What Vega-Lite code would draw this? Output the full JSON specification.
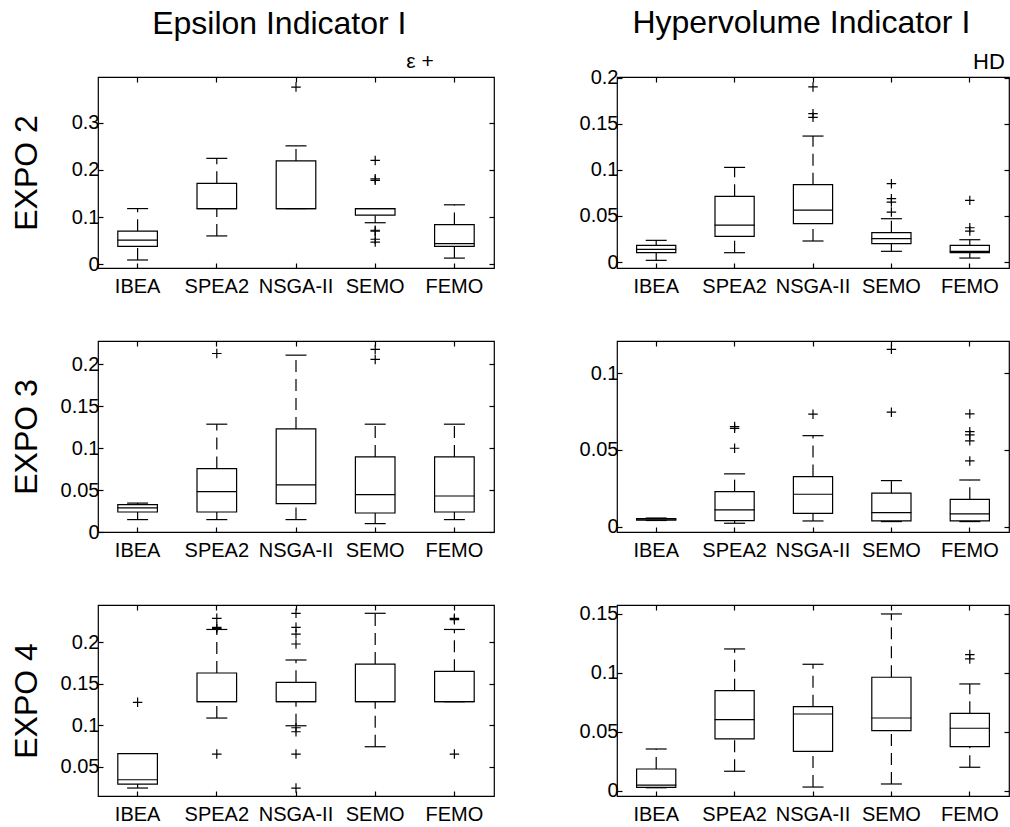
{
  "$schema": "https://vega.github.io/schema/vega-lite/v6.json",
  "background": "white",
  "padding": {"left": 9, "top": 7, "right": 0, "bottom": 0},
  "spacing": 82,
  "datasets": {
    "rows": [
      {"expo": "EXPO 2", "ind": "eps", "alg": "IBEA", "lo": 0.009, "q1": 0.038, "med": 0.051, "q3": 0.070, "hi": 0.118},
      {"expo": "EXPO 2", "ind": "eps", "alg": "SPEA2", "lo": 0.060, "q1": 0.118, "med": 0.118, "q3": 0.1716, "hi": 0.2245},
      {"expo": "EXPO 2", "ind": "eps", "alg": "NSGA-II", "lo": 0.118, "q1": 0.118, "med": 0.118, "q3": 0.219, "hi": 0.251},
      {"expo": "EXPO 2", "ind": "eps", "alg": "SEMO", "lo": 0.088, "q1": 0.104, "med": 0.118, "q3": 0.118, "hi": 0.118},
      {"expo": "EXPO 2", "ind": "eps", "alg": "FEMO", "lo": 0.013, "q1": 0.038, "med": 0.0437, "q3": 0.084, "hi": 0.126},
      {"expo": "EXPO 2", "ind": "eps", "alg": "NSGA-II", "v": 0.3756},
      {"expo": "EXPO 2", "ind": "eps", "alg": "SEMO", "v": 0.220},
      {"expo": "EXPO 2", "ind": "eps", "alg": "SEMO", "v": 0.181},
      {"expo": "EXPO 2", "ind": "eps", "alg": "SEMO", "v": 0.178},
      {"expo": "EXPO 2", "ind": "eps", "alg": "SEMO", "v": 0.072},
      {"expo": "EXPO 2", "ind": "eps", "alg": "SEMO", "v": 0.070},
      {"expo": "EXPO 2", "ind": "eps", "alg": "SEMO", "v": 0.053},
      {"expo": "EXPO 2", "ind": "eps", "alg": "SEMO", "v": 0.047},

      {"expo": "EXPO 2", "ind": "hv", "alg": "IBEA", "lo": 0.0018, "q1": 0.0101, "med": 0.0137, "q3": 0.0181, "hi": 0.0235},
      {"expo": "EXPO 2", "ind": "hv", "alg": "SPEA2", "lo": 0.0101, "q1": 0.0279, "med": 0.0401, "q3": 0.0713, "hi": 0.1027},
      {"expo": "EXPO 2", "ind": "hv", "alg": "NSGA-II", "lo": 0.0228, "q1": 0.0416, "med": 0.0564, "q3": 0.0839, "hi": 0.1367},
      {"expo": "EXPO 2", "ind": "hv", "alg": "SEMO", "lo": 0.0116, "q1": 0.0199, "med": 0.0253, "q3": 0.0318, "hi": 0.047},
      {"expo": "EXPO 2", "ind": "hv", "alg": "FEMO", "lo": 0.0043, "q1": 0.0101, "med": 0.0116, "q3": 0.0181, "hi": 0.0242},
      {"expo": "EXPO 2", "ind": "hv", "alg": "NSGA-II", "v": 0.190},
      {"expo": "EXPO 2", "ind": "hv", "alg": "NSGA-II", "v": 0.161},
      {"expo": "EXPO 2", "ind": "hv", "alg": "NSGA-II", "v": 0.157},
      {"expo": "EXPO 2", "ind": "hv", "alg": "SEMO", "v": 0.085},
      {"expo": "EXPO 2", "ind": "hv", "alg": "SEMO", "v": 0.0687},
      {"expo": "EXPO 2", "ind": "hv", "alg": "SEMO", "v": 0.0651},
      {"expo": "EXPO 2", "ind": "hv", "alg": "SEMO", "v": 0.0542},
      {"expo": "EXPO 2", "ind": "hv", "alg": "FEMO", "v": 0.0669},
      {"expo": "EXPO 2", "ind": "hv", "alg": "FEMO", "v": 0.0372},
      {"expo": "EXPO 2", "ind": "hv", "alg": "FEMO", "v": 0.0336},

      {"expo": "EXPO 3", "ind": "eps", "alg": "IBEA", "lo": 0.0148, "q1": 0.0239, "med": 0.0287, "q3": 0.0327, "hi": 0.0345},
      {"expo": "EXPO 3", "ind": "eps", "alg": "SPEA2", "lo": 0.0148, "q1": 0.0239, "med": 0.0482, "q3": 0.0757, "hi": 0.1287},
      {"expo": "EXPO 3", "ind": "eps", "alg": "NSGA-II", "lo": 0.0148, "q1": 0.0339, "med": 0.0562, "q3": 0.1231, "hi": 0.2111},
      {"expo": "EXPO 3", "ind": "eps", "alg": "SEMO", "lo": 0.010, "q1": 0.0227, "med": 0.0447, "q3": 0.0896, "hi": 0.1287},
      {"expo": "EXPO 3", "ind": "eps", "alg": "FEMO", "lo": 0.0148, "q1": 0.0239, "med": 0.043, "q3": 0.0896, "hi": 0.1287},
      {"expo": "EXPO 3", "ind": "eps", "alg": "SPEA2", "v": 0.2131},
      {"expo": "EXPO 3", "ind": "eps", "alg": "SEMO", "v": 0.2179},
      {"expo": "EXPO 3", "ind": "eps", "alg": "SEMO", "v": 0.206},

      {"expo": "EXPO 3", "ind": "hv", "alg": "IBEA", "lo": 0.0040, "q1": 0.0043, "med": 0.0048, "q3": 0.0053, "hi": 0.0056},
      {"expo": "EXPO 3", "ind": "hv", "alg": "SPEA2", "lo": 0.0022, "q1": 0.0039, "med": 0.0109, "q3": 0.0228, "hi": 0.0344},
      {"expo": "EXPO 3", "ind": "hv", "alg": "NSGA-II", "lo": 0.0037, "q1": 0.0087, "med": 0.0211, "q3": 0.0326, "hi": 0.0593},
      {"expo": "EXPO 3", "ind": "hv", "alg": "SEMO", "lo": 0.0033, "q1": 0.0037, "med": 0.0091, "q3": 0.0218, "hi": 0.030},
      {"expo": "EXPO 3", "ind": "hv", "alg": "FEMO", "lo": 0.0033, "q1": 0.0037, "med": 0.0083, "q3": 0.0178, "hi": 0.0304},
      {"expo": "EXPO 3", "ind": "hv", "alg": "SPEA2", "v": 0.0652},
      {"expo": "EXPO 3", "ind": "hv", "alg": "SPEA2", "v": 0.0641},
      {"expo": "EXPO 3", "ind": "hv", "alg": "SPEA2", "v": 0.0511},
      {"expo": "EXPO 3", "ind": "hv", "alg": "NSGA-II", "v": 0.0733},
      {"expo": "EXPO 3", "ind": "hv", "alg": "SEMO", "v": 0.1156},
      {"expo": "EXPO 3", "ind": "hv", "alg": "SEMO", "v": 0.0746},
      {"expo": "EXPO 3", "ind": "hv", "alg": "FEMO", "v": 0.0735},
      {"expo": "EXPO 3", "ind": "hv", "alg": "FEMO", "v": 0.0619},
      {"expo": "EXPO 3", "ind": "hv", "alg": "FEMO", "v": 0.0598},
      {"expo": "EXPO 3", "ind": "hv", "alg": "FEMO", "v": 0.0559},
      {"expo": "EXPO 3", "ind": "hv", "alg": "FEMO", "v": 0.0428},

      {"expo": "EXPO 4", "ind": "eps", "alg": "IBEA", "lo": 0.0243, "q1": 0.0291, "med": 0.0343, "q3": 0.0657, "hi": 0.0657},
      {"expo": "EXPO 4", "ind": "eps", "alg": "SPEA2", "lo": 0.1087, "q1": 0.1284, "med": 0.1284, "q3": 0.163, "hi": 0.2155},
      {"expo": "EXPO 4", "ind": "eps", "alg": "NSGA-II", "lo": 0.0994, "q1": 0.1284, "med": 0.1284, "q3": 0.1518, "hi": 0.1787},
      {"expo": "EXPO 4", "ind": "eps", "alg": "SEMO", "lo": 0.0741, "q1": 0.1284, "med": 0.1284, "q3": 0.1738, "hi": 0.235},
      {"expo": "EXPO 4", "ind": "eps", "alg": "FEMO", "lo": 0.1284, "q1": 0.1284, "med": 0.1284, "q3": 0.165, "hi": 0.2155},
      {"expo": "EXPO 4", "ind": "eps", "alg": "IBEA", "v": 0.1277},
      {"expo": "EXPO 4", "ind": "eps", "alg": "SPEA2", "v": 0.2289},
      {"expo": "EXPO 4", "ind": "eps", "alg": "SPEA2", "v": 0.2181},
      {"expo": "EXPO 4", "ind": "eps", "alg": "SPEA2", "v": 0.2165},
      {"expo": "EXPO 4", "ind": "eps", "alg": "SPEA2", "v": 0.0653},
      {"expo": "EXPO 4", "ind": "eps", "alg": "NSGA-II", "v": 0.235},
      {"expo": "EXPO 4", "ind": "eps", "alg": "NSGA-II", "v": 0.2181},
      {"expo": "EXPO 4", "ind": "eps", "alg": "NSGA-II", "v": 0.21},
      {"expo": "EXPO 4", "ind": "eps", "alg": "NSGA-II", "v": 0.198},
      {"expo": "EXPO 4", "ind": "eps", "alg": "NSGA-II", "v": 0.097},
      {"expo": "EXPO 4", "ind": "eps", "alg": "NSGA-II", "v": 0.0922},
      {"expo": "EXPO 4", "ind": "eps", "alg": "NSGA-II", "v": 0.0653},
      {"expo": "EXPO 4", "ind": "eps", "alg": "NSGA-II", "v": 0.0243},
      {"expo": "EXPO 4", "ind": "eps", "alg": "FEMO", "v": 0.2289},
      {"expo": "EXPO 4", "ind": "eps", "alg": "FEMO", "v": 0.2273},
      {"expo": "EXPO 4", "ind": "eps", "alg": "FEMO", "v": 0.0653},

      {"expo": "EXPO 4", "ind": "hv", "alg": "IBEA", "lo": 0.0025, "q1": 0.0029, "med": 0.0048, "q3": 0.0184, "hi": 0.0354},
      {"expo": "EXPO 4", "ind": "hv", "alg": "SPEA2", "lo": 0.0165, "q1": 0.0439, "med": 0.0603, "q3": 0.0849, "hi": 0.1203},
      {"expo": "EXPO 4", "ind": "hv", "alg": "NSGA-II", "lo": 0.0031, "q1": 0.0334, "med": 0.0651, "q3": 0.0713, "hi": 0.1073},
      {"expo": "EXPO 4", "ind": "hv", "alg": "SEMO", "lo": 0.0057, "q1": 0.0509, "med": 0.0617, "q3": 0.0963, "hi": 0.150},
      {"expo": "EXPO 4", "ind": "hv", "alg": "FEMO", "lo": 0.0199, "q1": 0.0374, "med": 0.053, "q3": 0.0657, "hi": 0.0906},
      {"expo": "EXPO 4", "ind": "hv", "alg": "FEMO", "v": 0.1155},
      {"expo": "EXPO 4", "ind": "hv", "alg": "FEMO", "v": 0.1118}
    ]
  },
  "hconcat": [
    {
      "title": {"text": "Epsilon Indicator I", "fontSize": 32, "anchor": "middle", "offset": 10, "dx": 27},
      "spacing": 42,
      "vconcat": [
        {
          "width": 396, "height": 191,
          "title": {"text": "ε +", "fontSize": 21, "anchor": "middle", "frame": "group", "dx": 124, "offset": -13, "baseline": "alphabetic"},
          "data": {"name": "rows"},
          "transform": [{"filter": "datum.expo === 'EXPO 2' && datum.ind === 'eps'"}],
          "resolve": {"axis": {"x": "independent", "y": "independent"}},
          "layer": [
            {"transform": [{"filter": "isValid(datum.q1)"}],
             "mark": {"type": "rule", "color": "black", "strokeWidth": 1.2, "strokeDash": [12, 7]},
             "encoding": {
               "x": {"field": "alg", "type": "nominal", "scale": {"type": "band", "domain": ["IBEA", "SPEA2", "NSGA-II", "SEMO", "FEMO"], "paddingInner": 0, "paddingOuter": 0}, "axis": {"orient": "bottom", "title": null, "labelAngle": 0}},
               "y": {"field": "lo", "type": "quantitative", "scale": {"domain": [-0.008, 0.397], "nice": false, "zero": false}, "axis": {"orient": "left", "values": [0, 0.1, 0.2, 0.3], "format": "~g", "title": "EXPO 2", "titleX": -62, "titleY": 95.5}},
               "y2": {"field": "q1"}}},
            {"transform": [{"filter": "isValid(datum.q1)"}],
             "mark": {"type": "point", "opacity": 0},
             "encoding": {
               "x": {"field": "alg", "type": "nominal", "axis": {"orient": "top", "labels": false, "title": null}},
               "y": {"field": "hi", "type": "quantitative", "axis": {"orient": "right", "labels": false, "title": null, "values": [0, 0.1, 0.2, 0.3]}}}},
            {"transform": [{"filter": "isValid(datum.q1)"}],
             "mark": {"type": "rule", "color": "black", "strokeWidth": 1.2, "strokeDash": [12, 7]},
             "encoding": {"x": {"field": "alg", "type": "nominal", "axis": null}, "y": {"field": "q3", "type": "quantitative", "axis": null}, "y2": {"field": "hi"}}},
            {"transform": [{"filter": "isValid(datum.q1)"}],
             "mark": {"type": "tick", "color": "black", "thickness": 1.2, "size": 21, "opacity": 1},
             "encoding": {"x": {"field": "alg", "type": "nominal", "axis": null}, "y": {"field": "lo", "type": "quantitative", "axis": null}}},
            {"transform": [{"filter": "isValid(datum.q1)"}],
             "mark": {"type": "tick", "color": "black", "thickness": 1.2, "size": 21, "opacity": 1},
             "encoding": {"x": {"field": "alg", "type": "nominal", "axis": null}, "y": {"field": "hi", "type": "quantitative", "axis": null}}},
            {"transform": [{"filter": "isValid(datum.q1)"}],
             "mark": {"type": "bar", "fill": "white", "stroke": "black", "strokeWidth": 1.2, "width": {"band": 0.5}},
             "encoding": {"x": {"field": "alg", "type": "nominal", "axis": null}, "y": {"field": "q1", "type": "quantitative", "axis": null}, "y2": {"field": "q3"}}},
            {"transform": [{"filter": "isValid(datum.q1)"}],
             "mark": {"type": "tick", "color": "black", "thickness": 1.2, "size": 40, "opacity": 1},
             "encoding": {"x": {"field": "alg", "type": "nominal", "axis": null}, "y": {"field": "med", "type": "quantitative", "axis": null}}},
            {"transform": [{"filter": "isValid(datum.v)"}],
             "mark": {"type": "point", "shape": "M-1,0H1M0,-1V1", "filled": false, "stroke": "black", "strokeWidth": 1.2, "size": 90, "opacity": 1},
             "encoding": {"x": {"field": "alg", "type": "nominal", "axis": null}, "y": {"field": "v", "type": "quantitative", "axis": null}}}
          ]
        },
        {
          "width": 396, "height": 191,
          "data": {"name": "rows"},
          "transform": [{"filter": "datum.expo === 'EXPO 3' && datum.ind === 'eps'"}],
          "resolve": {"axis": {"x": "independent", "y": "independent"}},
          "layer": [
            {"transform": [{"filter": "isValid(datum.q1)"}],
             "mark": {"type": "rule", "color": "black", "strokeWidth": 1.2, "strokeDash": [12, 7]},
             "encoding": {
               "x": {"field": "alg", "type": "nominal", "scale": {"type": "band", "domain": ["IBEA", "SPEA2", "NSGA-II", "SEMO", "FEMO"], "paddingInner": 0, "paddingOuter": 0}, "axis": {"orient": "bottom", "title": null, "labelAngle": 0}},
               "y": {"field": "lo", "type": "quantitative", "scale": {"domain": [0, 0.228], "nice": false, "zero": false}, "axis": {"orient": "left", "values": [0, 0.05, 0.1, 0.15, 0.2], "format": "~g", "title": "EXPO 3", "titleX": -62, "titleY": 95.5}},
               "y2": {"field": "q1"}}},
            {"transform": [{"filter": "isValid(datum.q1)"}],
             "mark": {"type": "point", "opacity": 0},
             "encoding": {
               "x": {"field": "alg", "type": "nominal", "axis": {"orient": "top", "labels": false, "title": null}},
               "y": {"field": "hi", "type": "quantitative", "axis": {"orient": "right", "labels": false, "title": null, "values": [0, 0.05, 0.1, 0.15, 0.2]}}}},
            {"transform": [{"filter": "isValid(datum.q1)"}],
             "mark": {"type": "rule", "color": "black", "strokeWidth": 1.2, "strokeDash": [12, 7]},
             "encoding": {"x": {"field": "alg", "type": "nominal", "axis": null}, "y": {"field": "q3", "type": "quantitative", "axis": null}, "y2": {"field": "hi"}}},
            {"transform": [{"filter": "isValid(datum.q1)"}],
             "mark": {"type": "tick", "color": "black", "thickness": 1.2, "size": 21, "opacity": 1},
             "encoding": {"x": {"field": "alg", "type": "nominal", "axis": null}, "y": {"field": "lo", "type": "quantitative", "axis": null}}},
            {"transform": [{"filter": "isValid(datum.q1)"}],
             "mark": {"type": "tick", "color": "black", "thickness": 1.2, "size": 21, "opacity": 1},
             "encoding": {"x": {"field": "alg", "type": "nominal", "axis": null}, "y": {"field": "hi", "type": "quantitative", "axis": null}}},
            {"transform": [{"filter": "isValid(datum.q1)"}],
             "mark": {"type": "bar", "fill": "white", "stroke": "black", "strokeWidth": 1.2, "width": {"band": 0.5}},
             "encoding": {"x": {"field": "alg", "type": "nominal", "axis": null}, "y": {"field": "q1", "type": "quantitative", "axis": null}, "y2": {"field": "q3"}}},
            {"transform": [{"filter": "isValid(datum.q1)"}],
             "mark": {"type": "tick", "color": "black", "thickness": 1.2, "size": 40, "opacity": 1},
             "encoding": {"x": {"field": "alg", "type": "nominal", "axis": null}, "y": {"field": "med", "type": "quantitative", "axis": null}}},
            {"transform": [{"filter": "isValid(datum.v)"}],
             "mark": {"type": "point", "shape": "M-1,0H1M0,-1V1", "filled": false, "stroke": "black", "strokeWidth": 1.2, "size": 90, "opacity": 1},
             "encoding": {"x": {"field": "alg", "type": "nominal", "axis": null}, "y": {"field": "v", "type": "quantitative", "axis": null}}}
          ]
        },
        {
          "width": 396, "height": 191,
          "data": {"name": "rows"},
          "transform": [{"filter": "datum.expo === 'EXPO 4' && datum.ind === 'eps'"}],
          "resolve": {"axis": {"x": "independent", "y": "independent"}},
          "layer": [
            {"transform": [{"filter": "isValid(datum.q1)"}],
             "mark": {"type": "rule", "color": "black", "strokeWidth": 1.2, "strokeDash": [12, 7]},
             "encoding": {
               "x": {"field": "alg", "type": "nominal", "scale": {"type": "band", "domain": ["IBEA", "SPEA2", "NSGA-II", "SEMO", "FEMO"], "paddingInner": 0, "paddingOuter": 0}, "axis": {"orient": "bottom", "title": null, "labelAngle": 0}},
               "y": {"field": "lo", "type": "quantitative", "scale": {"domain": [0.0147, 0.245], "nice": false, "zero": false}, "axis": {"orient": "left", "values": [0.05, 0.1, 0.15, 0.2], "format": "~g", "title": "EXPO 4", "titleX": -62, "titleY": 95.5}},
               "y2": {"field": "q1"}}},
            {"transform": [{"filter": "isValid(datum.q1)"}],
             "mark": {"type": "point", "opacity": 0},
             "encoding": {
               "x": {"field": "alg", "type": "nominal", "axis": {"orient": "top", "labels": false, "title": null}},
               "y": {"field": "hi", "type": "quantitative", "axis": {"orient": "right", "labels": false, "title": null, "values": [0.05, 0.1, 0.15, 0.2]}}}},
            {"transform": [{"filter": "isValid(datum.q1)"}],
             "mark": {"type": "rule", "color": "black", "strokeWidth": 1.2, "strokeDash": [12, 7]},
             "encoding": {"x": {"field": "alg", "type": "nominal", "axis": null}, "y": {"field": "q3", "type": "quantitative", "axis": null}, "y2": {"field": "hi"}}},
            {"transform": [{"filter": "isValid(datum.q1)"}],
             "mark": {"type": "tick", "color": "black", "thickness": 1.2, "size": 21, "opacity": 1},
             "encoding": {"x": {"field": "alg", "type": "nominal", "axis": null}, "y": {"field": "lo", "type": "quantitative", "axis": null}}},
            {"transform": [{"filter": "isValid(datum.q1)"}],
             "mark": {"type": "tick", "color": "black", "thickness": 1.2, "size": 21, "opacity": 1},
             "encoding": {"x": {"field": "alg", "type": "nominal", "axis": null}, "y": {"field": "hi", "type": "quantitative", "axis": null}}},
            {"transform": [{"filter": "isValid(datum.q1)"}],
             "mark": {"type": "bar", "fill": "white", "stroke": "black", "strokeWidth": 1.2, "width": {"band": 0.5}},
             "encoding": {"x": {"field": "alg", "type": "nominal", "axis": null}, "y": {"field": "q1", "type": "quantitative", "axis": null}, "y2": {"field": "q3"}}},
            {"transform": [{"filter": "isValid(datum.q1)"}],
             "mark": {"type": "tick", "color": "black", "thickness": 1.2, "size": 40, "opacity": 1},
             "encoding": {"x": {"field": "alg", "type": "nominal", "axis": null}, "y": {"field": "med", "type": "quantitative", "axis": null}}},
            {"transform": [{"filter": "isValid(datum.v)"}],
             "mark": {"type": "point", "shape": "M-1,0H1M0,-1V1", "filled": false, "stroke": "black", "strokeWidth": 1.2, "size": 90, "opacity": 1},
             "encoding": {"x": {"field": "alg", "type": "nominal", "axis": null}, "y": {"field": "v", "type": "quantitative", "axis": null}}}
          ]
        }
      ]
    },
    {
      "title": {"text": "Hypervolume Indicator I", "fontSize": 32, "anchor": "middle", "offset": 10, "dx": 7},
      "spacing": 42,
      "vconcat": [
        {
          "width": 392, "height": 191,
          "title": {"text": "HD", "fontSize": 22, "anchor": "middle", "frame": "group", "dx": 176, "offset": -23, "baseline": "alphabetic"},
          "data": {"name": "rows"},
          "transform": [{"filter": "datum.expo === 'EXPO 2' && datum.ind === 'hv'"}],
          "resolve": {"axis": {"x": "independent", "y": "independent"}},
          "layer": [
            {"transform": [{"filter": "isValid(datum.q1)"}],
             "mark": {"type": "rule", "color": "black", "strokeWidth": 1.2, "strokeDash": [12, 7]},
             "encoding": {
               "x": {"field": "alg", "type": "nominal", "scale": {"type": "band", "domain": ["IBEA", "SPEA2", "NSGA-II", "SEMO", "FEMO"], "paddingInner": 0, "paddingOuter": 0}, "axis": {"orient": "bottom", "title": null, "labelAngle": 0}},
               "y": {"field": "lo", "type": "quantitative", "scale": {"domain": [-0.0065, 0.2008], "nice": false, "zero": false}, "axis": {"orient": "left", "values": [0, 0.05, 0.1, 0.15, 0.2], "format": "~g", "title": null}},
               "y2": {"field": "q1"}}},
            {"transform": [{"filter": "isValid(datum.q1)"}],
             "mark": {"type": "point", "opacity": 0},
             "encoding": {
               "x": {"field": "alg", "type": "nominal", "axis": {"orient": "top", "labels": false, "title": null}},
               "y": {"field": "hi", "type": "quantitative", "axis": {"orient": "right", "labels": false, "title": null, "values": [0, 0.05, 0.1, 0.15, 0.2]}}}},
            {"transform": [{"filter": "isValid(datum.q1)"}],
             "mark": {"type": "rule", "color": "black", "strokeWidth": 1.2, "strokeDash": [12, 7]},
             "encoding": {"x": {"field": "alg", "type": "nominal", "axis": null}, "y": {"field": "q3", "type": "quantitative", "axis": null}, "y2": {"field": "hi"}}},
            {"transform": [{"filter": "isValid(datum.q1)"}],
             "mark": {"type": "tick", "color": "black", "thickness": 1.2, "size": 21, "opacity": 1},
             "encoding": {"x": {"field": "alg", "type": "nominal", "axis": null}, "y": {"field": "lo", "type": "quantitative", "axis": null}}},
            {"transform": [{"filter": "isValid(datum.q1)"}],
             "mark": {"type": "tick", "color": "black", "thickness": 1.2, "size": 21, "opacity": 1},
             "encoding": {"x": {"field": "alg", "type": "nominal", "axis": null}, "y": {"field": "hi", "type": "quantitative", "axis": null}}},
            {"transform": [{"filter": "isValid(datum.q1)"}],
             "mark": {"type": "bar", "fill": "white", "stroke": "black", "strokeWidth": 1.2, "width": {"band": 0.5}},
             "encoding": {"x": {"field": "alg", "type": "nominal", "axis": null}, "y": {"field": "q1", "type": "quantitative", "axis": null}, "y2": {"field": "q3"}}},
            {"transform": [{"filter": "isValid(datum.q1)"}],
             "mark": {"type": "tick", "color": "black", "thickness": 1.2, "size": 40, "opacity": 1},
             "encoding": {"x": {"field": "alg", "type": "nominal", "axis": null}, "y": {"field": "med", "type": "quantitative", "axis": null}}},
            {"transform": [{"filter": "isValid(datum.v)"}],
             "mark": {"type": "point", "shape": "M-1,0H1M0,-1V1", "filled": false, "stroke": "black", "strokeWidth": 1.2, "size": 90, "opacity": 1},
             "encoding": {"x": {"field": "alg", "type": "nominal", "axis": null}, "y": {"field": "v", "type": "quantitative", "axis": null}}}
          ]
        },
        {
          "width": 392, "height": 191,
          "data": {"name": "rows"},
          "transform": [{"filter": "datum.expo === 'EXPO 3' && datum.ind === 'hv'"}],
          "resolve": {"axis": {"x": "independent", "y": "independent"}},
          "layer": [
            {"transform": [{"filter": "isValid(datum.q1)"}],
             "mark": {"type": "rule", "color": "black", "strokeWidth": 1.2, "strokeDash": [12, 7]},
             "encoding": {
               "x": {"field": "alg", "type": "nominal", "scale": {"type": "band", "domain": ["IBEA", "SPEA2", "NSGA-II", "SEMO", "FEMO"], "paddingInner": 0, "paddingOuter": 0}, "axis": {"orient": "bottom", "title": null, "labelAngle": 0}},
               "y": {"field": "lo", "type": "quantitative", "scale": {"domain": [-0.0035, 0.121], "nice": false, "zero": false}, "axis": {"orient": "left", "values": [0, 0.05, 0.1], "format": "~g", "title": null}},
               "y2": {"field": "q1"}}},
            {"transform": [{"filter": "isValid(datum.q1)"}],
             "mark": {"type": "point", "opacity": 0},
             "encoding": {
               "x": {"field": "alg", "type": "nominal", "axis": {"orient": "top", "labels": false, "title": null}},
               "y": {"field": "hi", "type": "quantitative", "axis": {"orient": "right", "labels": false, "title": null, "values": [0, 0.05, 0.1]}}}},
            {"transform": [{"filter": "isValid(datum.q1)"}],
             "mark": {"type": "rule", "color": "black", "strokeWidth": 1.2, "strokeDash": [12, 7]},
             "encoding": {"x": {"field": "alg", "type": "nominal", "axis": null}, "y": {"field": "q3", "type": "quantitative", "axis": null}, "y2": {"field": "hi"}}},
            {"transform": [{"filter": "isValid(datum.q1)"}],
             "mark": {"type": "tick", "color": "black", "thickness": 1.2, "size": 21, "opacity": 1},
             "encoding": {"x": {"field": "alg", "type": "nominal", "axis": null}, "y": {"field": "lo", "type": "quantitative", "axis": null}}},
            {"transform": [{"filter": "isValid(datum.q1)"}],
             "mark": {"type": "tick", "color": "black", "thickness": 1.2, "size": 21, "opacity": 1},
             "encoding": {"x": {"field": "alg", "type": "nominal", "axis": null}, "y": {"field": "hi", "type": "quantitative", "axis": null}}},
            {"transform": [{"filter": "isValid(datum.q1)"}],
             "mark": {"type": "bar", "fill": "white", "stroke": "black", "strokeWidth": 1.2, "width": {"band": 0.5}},
             "encoding": {"x": {"field": "alg", "type": "nominal", "axis": null}, "y": {"field": "q1", "type": "quantitative", "axis": null}, "y2": {"field": "q3"}}},
            {"transform": [{"filter": "isValid(datum.q1)"}],
             "mark": {"type": "tick", "color": "black", "thickness": 1.2, "size": 40, "opacity": 1},
             "encoding": {"x": {"field": "alg", "type": "nominal", "axis": null}, "y": {"field": "med", "type": "quantitative", "axis": null}}},
            {"transform": [{"filter": "isValid(datum.v)"}],
             "mark": {"type": "point", "shape": "M-1,0H1M0,-1V1", "filled": false, "stroke": "black", "strokeWidth": 1.2, "size": 90, "opacity": 1},
             "encoding": {"x": {"field": "alg", "type": "nominal", "axis": null}, "y": {"field": "v", "type": "quantitative", "axis": null}}}
          ]
        },
        {
          "width": 392, "height": 191,
          "data": {"name": "rows"},
          "transform": [{"filter": "datum.expo === 'EXPO 4' && datum.ind === 'hv'"}],
          "resolve": {"axis": {"x": "independent", "y": "independent"}},
          "layer": [
            {"transform": [{"filter": "isValid(datum.q1)"}],
             "mark": {"type": "rule", "color": "black", "strokeWidth": 1.2, "strokeDash": [12, 7]},
             "encoding": {
               "x": {"field": "alg", "type": "nominal", "scale": {"type": "band", "domain": ["IBEA", "SPEA2", "NSGA-II", "SEMO", "FEMO"], "paddingInner": 0, "paddingOuter": 0}, "axis": {"orient": "bottom", "title": null, "labelAngle": 0}},
               "y": {"field": "lo", "type": "quantitative", "scale": {"domain": [-0.0045, 0.1576], "nice": false, "zero": false}, "axis": {"orient": "left", "values": [0, 0.05, 0.1, 0.15], "format": "~g", "title": null}},
               "y2": {"field": "q1"}}},
            {"transform": [{"filter": "isValid(datum.q1)"}],
             "mark": {"type": "point", "opacity": 0},
             "encoding": {
               "x": {"field": "alg", "type": "nominal", "axis": {"orient": "top", "labels": false, "title": null}},
               "y": {"field": "hi", "type": "quantitative", "axis": {"orient": "right", "labels": false, "title": null, "values": [0, 0.05, 0.1, 0.15]}}}},
            {"transform": [{"filter": "isValid(datum.q1)"}],
             "mark": {"type": "rule", "color": "black", "strokeWidth": 1.2, "strokeDash": [12, 7]},
             "encoding": {"x": {"field": "alg", "type": "nominal", "axis": null}, "y": {"field": "q3", "type": "quantitative", "axis": null}, "y2": {"field": "hi"}}},
            {"transform": [{"filter": "isValid(datum.q1)"}],
             "mark": {"type": "tick", "color": "black", "thickness": 1.2, "size": 21, "opacity": 1},
             "encoding": {"x": {"field": "alg", "type": "nominal", "axis": null}, "y": {"field": "lo", "type": "quantitative", "axis": null}}},
            {"transform": [{"filter": "isValid(datum.q1)"}],
             "mark": {"type": "tick", "color": "black", "thickness": 1.2, "size": 21, "opacity": 1},
             "encoding": {"x": {"field": "alg", "type": "nominal", "axis": null}, "y": {"field": "hi", "type": "quantitative", "axis": null}}},
            {"transform": [{"filter": "isValid(datum.q1)"}],
             "mark": {"type": "bar", "fill": "white", "stroke": "black", "strokeWidth": 1.2, "width": {"band": 0.5}},
             "encoding": {"x": {"field": "alg", "type": "nominal", "axis": null}, "y": {"field": "q1", "type": "quantitative", "axis": null}, "y2": {"field": "q3"}}},
            {"transform": [{"filter": "isValid(datum.q1)"}],
             "mark": {"type": "tick", "color": "black", "thickness": 1.2, "size": 40, "opacity": 1},
             "encoding": {"x": {"field": "alg", "type": "nominal", "axis": null}, "y": {"field": "med", "type": "quantitative", "axis": null}}},
            {"transform": [{"filter": "isValid(datum.v)"}],
             "mark": {"type": "point", "shape": "M-1,0H1M0,-1V1", "filled": false, "stroke": "black", "strokeWidth": 1.2, "size": 90, "opacity": 1},
             "encoding": {"x": {"field": "alg", "type": "nominal", "axis": null}, "y": {"field": "v", "type": "quantitative", "axis": null}}}
          ]
        }
      ]
    }
  ],
  "config": {
    "view": {"stroke": "black", "strokeWidth": 1.2},
    "axis": {"domain": false, "grid": false, "tickColor": "black", "tickSize": -5, "tickWidth": 1.2, "labelFont": "Liberation Sans", "labelFontSize": 20, "labelColor": "black", "titleFont": "Liberation Sans", "titleFontSize": 32, "titleFontWeight": "normal", "titleColor": "black", "titleAngle": 270, "titleBaseline": "alphabetic"},
    "axisX": {"labelPadding": 13},
    "axisY": {"labelPadding": 4},
    "title": {"font": "Liberation Sans", "fontWeight": "normal", "color": "black"}
  }
}
